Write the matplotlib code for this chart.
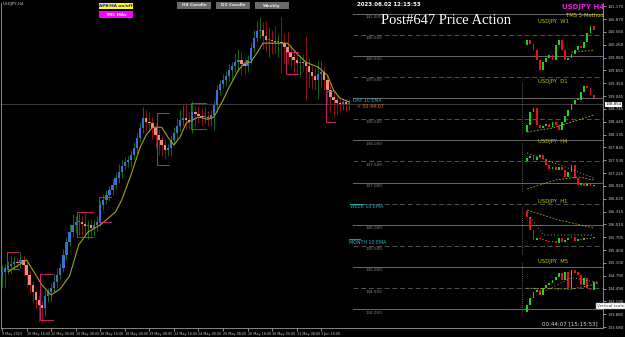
import matplotlib.pyplot as plt
from matplotlib.lines import Line2D
from matplotlib.patches import Rectangle

W, H = 625, 337

# ---- main USDJPY H4 chart (Heikin-Ashi style), bar 0 = 9 May 2023 ----
first_open = 134.80
closes = [134.89, 134.98, 135.03, 135.08, 135.12, 135.10, 135.17, 135.05, 134.82, 134.58,
          134.41, 134.23, 134.11, 134.04, 134.32, 134.41, 134.51, 134.65, 134.82, 134.98,
          135.29, 135.60, 135.83, 136.00, 136.07, 136.07, 136.02, 135.97, 136.00, 135.93,
          136.00, 136.07, 136.47, 136.59, 136.71, 136.83, 136.94, 137.11, 137.25, 137.39,
          137.49, 137.53, 137.65, 137.82, 138.05, 138.29, 138.53, 138.43, 138.41, 138.29,
          138.13, 138.01, 137.89, 137.77, 137.82, 138.01, 138.17, 138.34, 138.48, 138.53,
          138.48, 138.43, 138.67, 138.62, 138.57, 138.55, 138.55, 138.53, 138.60, 138.83,
          139.19, 139.33, 139.43, 139.52, 139.66, 139.76, 139.85, 139.90, 139.80, 139.76,
          139.90, 140.18, 140.42, 140.58, 140.61, 140.47, 140.37, 140.37, 140.35, 140.32,
          140.32, 140.30, 140.21, 140.09, 139.97, 139.90, 139.83, 139.85, 139.83, 139.76,
          139.62, 139.52, 139.43, 139.57, 139.62, 139.43, 139.19, 139.02, 138.95, 138.88,
          138.86, 138.91, 138.86, 138.88]
wick_up = [0.15, 0.10, 0.12, 0.20, 0.15, 0.10, 0.18, 0.12, 0.10, 0.08,
           0.10, 0.08, 0.10, 0.12, 0.15, 0.10, 0.12, 0.18, 0.15, 0.12,
           0.15, 0.12, 0.20, 0.25, 0.15, 0.20, 0.15, 0.25, 0.12, 0.15,
           0.12, 0.15, 0.10, 0.15, 0.12, 0.10, 0.15, 0.12, 0.18, 0.15,
           0.12, 0.10, 0.12, 0.15, 0.12, 0.15, 0.25, 0.20, 0.25, 0.15,
           0.12, 0.15, 0.10, 0.12, 0.10, 0.12, 0.15, 0.20, 0.25, 0.30,
           0.35, 0.20, 0.25, 0.15, 0.20, 0.20, 0.25, 0.15, 0.12, 0.10,
           0.12, 0.10, 0.15, 0.12, 0.15, 0.10, 0.20, 0.25, 0.20, 0.15,
           0.12, 0.15, 0.20, 0.25, 0.30, 0.20, 0.35, 0.30, 0.25, 0.35,
           0.20, 0.60, 0.25, 0.35, 0.20, 0.15, 0.20, 0.15, 0.20, 0.65,
           0.20, 0.15, 0.20, 0.30, 0.25, 0.15, 0.12, 0.15, 0.12, 0.10,
           0.12, 0.10, 0.08, 0.10]
wick_dn = [0.30, 0.35, 0.15, 0.20, 0.15, 0.10, 0.12, 0.25, 0.30, 0.20,
           0.25, 0.20, 0.40, 0.35, 0.20, 0.15, 0.20, 0.10, 0.12, 0.10,
           0.10, 0.12, 0.10, 0.12, 0.20, 0.30, 0.25, 0.20, 0.30, 0.25,
           0.20, 0.15, 0.10, 0.12, 0.10, 0.15, 0.12, 0.10, 0.12, 0.15,
           0.10, 0.12, 0.15, 0.10, 0.12, 0.10, 0.12, 0.20, 0.15, 0.25,
           0.30, 0.35, 0.25, 0.20, 0.15, 0.20, 0.12, 0.15, 0.12, 0.15,
           0.20, 0.15, 0.25, 0.30, 0.15, 0.20, 0.15, 0.20, 0.20, 0.35,
           0.15, 0.12, 0.10, 0.15, 0.12, 0.20, 0.15, 0.20, 0.25, 0.20,
           0.15, 0.10, 0.12, 0.10, 0.15, 0.30, 0.25, 0.40, 0.30, 0.25,
           0.35, 0.70, 0.40, 0.25, 0.20, 0.30, 0.25, 0.30, 0.20, 0.80,
           0.35, 0.30, 0.25, 0.45, 0.30, 0.25, 0.30, 0.35, 0.40, 0.25,
           0.20, 0.15, 0.20, 0.15]

# moving average line read at some bars
ma_bars = [2, 8, 13, 16, 19, 22, 25, 28, 32, 34, 37, 39, 42, 45, 47, 49, 52, 54, 56, 58,
           60, 64, 67, 69, 72, 74, 77, 79, 81, 83, 85, 88, 93, 96, 99, 103, 106, 108, 110, 113]
ma_vals = [134.89, 135.17, 134.58, 134.34, 134.49, 134.79, 135.53, 135.83, 136.00, 136.12,
           136.31, 136.59, 137.18, 137.84, 138.13, 138.31, 138.31, 138.08, 137.89, 138.08,
           138.41, 138.55, 138.50, 138.55, 138.95, 139.26, 139.66, 139.83, 139.85, 140.06,
           140.30, 140.30, 140.30, 140.06, 139.85, 139.73, 139.54, 139.19, 139.00, 138.91]

# magenta range brackets: (first bar, last bar, top, bottom)
brackets = [(2, 5, 135.36, 134.96), (13, 16, 134.84, 133.75), (25, 29, 136.30, 135.71),
            (32, 35, 136.66, 136.07), (51, 54, 138.64, 137.42), (62, 66, 138.88, 138.27),
            (93, 96, 140.09, 139.57), (106, 108, 139.17, 138.43)]

date_bars = [0, 8, 16, 24, 32, 40, 48, 56, 64, 72, 80, 88, 96, 104]
date_labels = ['9 May 2023', '10 May 16:00', '12 May 00:00', '15 May 08:00', '16 May 16:00',
               '18 May 00:00', '19 May 08:00', '22 May 16:00', '24 May 00:00', '25 May 08:00',
               '26 May 16:00', '30 May 00:00', '31 May 08:00', '1 Jun 16:00']

price_ticks = [141.175, 140.870, 140.565, 140.260, 139.960, 139.655, 139.350, 139.045,
               138.745, 138.440, 138.135, 137.835, 137.530, 137.225, 136.920, 136.620,
               136.315, 136.010, 135.705, 135.400, 135.100, 134.795, 134.490, 134.190,
               133.885, 133.580]
levels = [141.0, 140.5, 140.0, 139.5, 139.0, 138.5, 138.0, 137.5, 137.0, 136.5,
          136.0, 135.5, 135.0, 134.5, 134.0]
level_labels = [141.0, 140.5, 140.0, 139.5, 138.5, 138.0, 137.5, 137.0,
                136.0, 135.5, 135.0, 134.5, 134.0]
last_price = 138.854

# ---- mini charts on the right ----
w1_open, w1_close = 135.10, [136.55, 135.39, 133.65, 130.75, 127.85, 130.17, 131.33, 132.20,
                             130.75, 135.10, 136.55, 133.65, 130.75, 131.33, 132.49, 133.65,
                             134.81, 134.23, 135.97, 138.58, 140.61, 139.45]
d1_open, d1_close = 133.40, [134.50, 136.58, 137.22, 134.50, 134.02, 134.34, 134.66, 134.18,
                             134.98, 134.50, 133.70, 134.98, 135.94, 136.90, 137.86, 138.50,
                             138.50, 139.78, 140.74, 140.42, 139.30, 138.82]
h4_open, h4_close = 140.10, [140.25, 140.35, 140.15, 140.30, 140.40, 140.20, 139.90, 139.70,
                             139.80, 139.65, 139.80, 139.65, 139.30, 139.55, 139.90, 139.25,
                             138.90, 139.00, 138.85, 138.95, 138.85, 138.90]
h1_open, h1_close = 139.68, [139.49, 139.10, 138.80, 138.86, 138.83, 138.80, 138.77, 138.74,
                             138.77, 138.71, 138.86, 138.74, 138.80, 138.86, 138.89, 138.77,
                             138.83, 138.80, 138.86, 138.83, 138.86, 138.86]
m5_open, m5_close = 138.55, [138.63, 138.71, 138.78, 138.80, 138.74, 138.82, 138.86, 138.88,
                             138.91, 138.95, 138.99, 138.91, 139.00, 138.82, 139.03, 139.00,
                             138.97, 138.86, 138.94, 138.82, 138.80, 138.89, 138.87]
w1_ma = ([14, 17, 21], [133.0, 133.2, 133.6])
d1_ma = ([0, 8, 14, 21], [133.38, 134.02, 134.98, 136.10])
h4_ma = ([0, 9, 16, 21], [138.70, 139.15, 139.30, 139.15])
h1_ma = ([0, 10, 21], [139.70, 139.40, 139.16])
m5_ma = ([0, 14, 22], [138.82, 138.81, 138.87])
h4_dots = ([0, 12, 21], [140.50, 139.80, 139.25])
h1_dots = ([1, 5, 21], [139.49, 138.95, 138.95])
m5_dots = ([4, 14, 22], [138.76, 138.94, 138.89])

BLUE, SALMON = '#3b6fd8', '#f4867a'
UPWICK, DNWICK = '#0f6e12', '#8e1212'
GRID = '#686868'
CYAN = '#22b4c6'


def fx(px):
    return px / W


def fy(py):
    return 1 - py / H


fig = plt.figure(figsize=(W / 100, H / 100), dpi=100, facecolor='black')
ax = fig.add_axes([fx(1), fy(328), fx(602), 325 / H])
ax.set_facecolor('black')
ax.set_xlim(-0.33, 195.77)
ax.set_ylim(133.56, 141.25)

# candles
opens = [first_open] + closes[:-1]
xs = list(range(len(closes)))
for i in xs:
    o, c = opens[i], closes[i]
    up = c >= o
    ax.vlines(i, min(o, c) - wick_dn[i], max(o, c) + wick_up[i],
              color=UPWICK if up else DNWICK, lw=0.7, zorder=2)
    ax.bar(i, max(abs(c - o), 0.025), bottom=min(o, c), width=0.75,
           color=BLUE if up else SALMON, lw=0, zorder=3)

ax.plot(ma_bars, ma_vals, color='#a4a21e', lw=0.8, zorder=4)

for b0, b1, top, bot in brackets:
    ax.plot([b1 + 0.5, b0 - 0.5, b0 - 0.5, b1 + 0.5], [top, top, bot, bot],
            color='#e2287c', lw=0.6, zorder=5)

# price levels on the right part of the chart
for lv in levels:
    whole = lv == int(lv)
    ax.axhline(lv, xmin=0.585, xmax=1, color=GRID if whole else '#545454', lw=0.7,
               ls='-' if whole else (0, (5, 3)), zorder=1)
for lv in level_labels:
    ax.text(0.605, lv - 0.03, '%.3f' % lv, transform=ax.get_yaxis_transform(),
            fontsize=3.0, color='#8c8c8c', va='top')
ax.axhline(last_price, color='#3c3c3c', lw=0.7, zorder=1)

# axes styling
ax.spines['top'].set_visible(False)
for side in ['left', 'bottom', 'right']:
    ax.spines[side].set_color('#9a9a9a')
    ax.spines[side].set_linewidth(0.6)
ax.yaxis.tick_right()
ax.set_yticks(price_ticks)
ax.set_yticklabels(['%.3f' % p for p in price_ticks])
ax.tick_params(axis='y', length=2, width=0.5, pad=1, labelsize=2.9, colors='#c8c8c8')
ax.set_xticks(date_bars)
ax.set_xticklabels(date_labels, ha='left')
ax.tick_params(axis='x', length=2, width=0.5, pad=1, labelsize=2.4, colors='#c8c8c8')
ax.text(1.004, last_price, '%.3f' % last_price, transform=ax.get_yaxis_transform(),
        fontsize=2.9, color='black', va='center',
        bbox=dict(fc='white', ec='none', pad=0.5))


def mini(rect, title, title_y, op, cl, ylim, ma, dots=None):
    a = fig.add_axes([fx(rect[0]), fy(rect[3]), fx(rect[2] - rect[0]), (rect[3] - rect[1]) / H])
    a.set_facecolor('none')
    a.axis('off')
    prev = [op] + cl[:-1]
    for i, c in enumerate(cl):
        o = prev[i]
        col = '#1fcf1f' if c >= o else '#ee1010'
        a.bar(i, max(abs(c - o), (ylim[1] - ylim[0]) * 0.012), bottom=min(o, c),
              width=0.55, color=col, lw=0)
    a.plot(ma[0], ma[1], color='#b6b21a', lw=0.6, ls=(0, (2, 2)))
    if dots:
        a.plot(dots[0], dots[1], color='#d0d0d0', lw=0.6, ls=(0, (1, 3)))
    a.set_xlim(-1, 23)
    a.set_ylim(*ylim)
    fig.text(fx(553), fy(title_y), title, fontsize=3.8, color='#c4c214',
             ha='center', va='center')


mini((524, 24, 600, 76), 'USDJPY  W1', 22, w1_open, w1_close, (126.11, 141.19), w1_ma)
mini((524, 83, 600, 137), 'USDJPY  D1', 81, d1_open, d1_close, (132.58, 141.22), d1_ma)
mini((524, 146, 600, 194), 'USDJPY  H4', 142, h4_open, h4_close, (138.45, 140.85), h4_ma, h4_dots)
mini((524, 205, 600, 255), 'USDJPY  H1', 201, h1_open, h1_close, (138.35, 139.85), h1_ma, h1_dots)
mini((524, 262, 600, 318), 'USDJPY  M5', 261, m5_open, m5_close, (138.48, 139.12), m5_ma, m5_dots)

# dotted separators left of the mini charts
for y0, y1 in [(83, 135), (143, 192), (207, 255), (263, 315)]:
    fig.add_artist(Line2D([fx(522), fx(522)], [fy(y0), fy(y1)], color='#808080',
                          lw=0.6, ls=(0, (1, 1.5))))

# texts
fig.text(fx(3), fy(4), 'USDJPY,H4', fontsize=3, color='#c8c8c8', va='center')
fig.text(fx(357), fy(5), '2023.06.02 12:15:53', fontsize=4, color='white',
         va='center', fontweight='bold')
fig.text(fx(381), fy(21), 'Post#647 Price Action', fontsize=10.5, color='white',
         family='Liberation Serif', va='center')
fig.text(fx(604), fy(7), 'USDJPY H4', fontsize=5, color='#e21ee2', fontweight='bold',
         ha='right', va='center')
fig.text(fx(604), fy(15.5), 'TMS 5-Method', fontsize=3.8, color='#d4d21a',
         ha='right', va='center')
fig.text(fx(353), fy(100), 'DAY 10 EMA', fontsize=3.4, color=CYAN, va='center')
fig.text(fx(357), fy(106), '< 00:44:07', fontsize=3.4, color='#e27c22', va='center')
fig.text(fx(350), fy(207), 'WEEK 10 EMA', fontsize=3.4, color=CYAN, va='center')
fig.text(fx(349), fy(242), 'MONTH 10 EMA', fontsize=3.4, color=CYAN, va='center')
for y, x0, x1 in [(203.5, 350, 362), (238.5, 349, 360)]:
    fig.add_artist(Line2D([fx(x0), fx(x1)], [fy(y), fy(y)], color=CYAN, lw=0.6))
fig.text(fx(598), fy(324), '00:44:07 [15:15:53]', fontsize=4, color='#d8d8d8',
         ha='right', va='center')

# buttons
buttons = [(99, 3, 133, 9, '#ffff00', '#1020c0', 'APB/HA on/off'),
           (99, 11, 133, 18, '#ff00ff', '#ffe0ff', 'TMS MAs'),
           (177, 2, 211, 9, '#6a6a6a', '#e8e8e8', 'H4 Candle'),
           (216, 2, 250, 9, '#6a6a6a', '#e8e8e8', 'D1 Candle'),
           (255, 2, 289, 9, '#6a6a6a', '#e8e8e8', 'Weekly')]
for x0, y0, x1, y1, bg, fg, label in buttons:
    fig.add_artist(Rectangle((fx(x0), fy(y1)), fx(x1 - x0), (y1 - y0) / H,
                             facecolor=bg, edgecolor='none'))
    fig.text(fx((x0 + x1) / 2), fy((y0 + y1) / 2), label, fontsize=3.1, color=fg,
             fontweight='bold', ha='center', va='center')

# tooltip
fig.text(fx(597), fy(306), 'Vertical scale', fontsize=3.0, color='#404040', va='center',
         bbox=dict(fc='white', ec='#a0a0a0', lw=0.3, pad=0.6))

fig.savefig('out.png', dpi=100, facecolor='black')
